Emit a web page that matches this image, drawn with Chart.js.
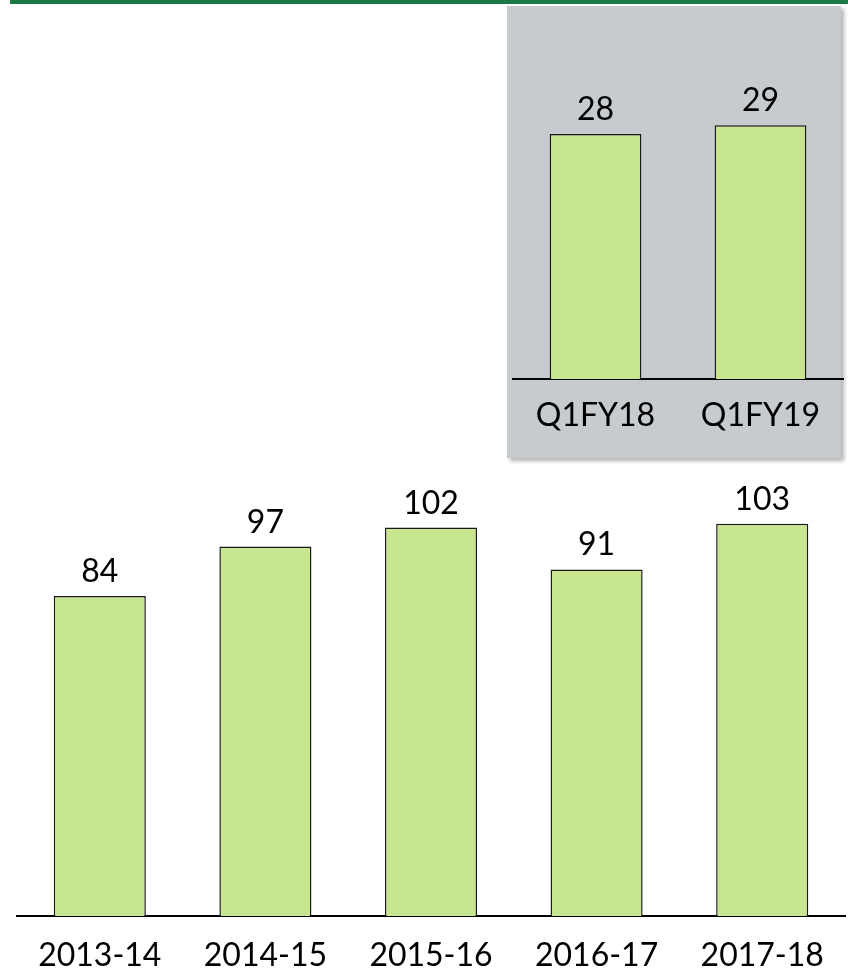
<!DOCTYPE html>
<html>
<head>
<meta charset="utf-8">
<script src="https://cdn.jsdelivr.net/npm/chart.js@4.4.0/dist/chart.umd.min.js"></script>
<style>
  html, body { margin: 0; padding: 0; background: #fff; }
  body { width: 848px; height: 970px; position: relative; overflow: hidden; }
  #topLine { position: absolute; left: 10px; top: 0; width: 838px; height: 4px; background: #1b7a43; }
  #mainWrap { position: absolute; left: 0; top: 0; width: 848px; height: 970px; }
  #insetBox { position: absolute; left: 507px; top: 6px; width: 334px; height: 452px;
              background: #c8cbce; box-shadow: 3px 3px 4px rgba(0,0,0,0.3); }
  #insetWrap { position: absolute; left: 0; top: 0; width: 337px; height: 452px; }
</style>
</head>
<body>
<div id="topLine"></div>
<div id="mainWrap"><canvas id="mainChart" width="848" height="970"></canvas></div>
<div id="insetBox"><div id="insetWrap"><canvas id="insetChart" width="337" height="452"></canvas></div></div>
<script>
// Datos
const years = ['2013-14', '2014-15', '2015-16', '2016-17', '2017-18'];
const yearValues = [84, 97, 102, 91, 103];
const quarters = ['Q1FY18', 'Q1FY19'];
const quarterValues = [28, 29];

const FONT = 'Lato, "Open Sans", sans-serif';
const barFill = '#c8e690';
const barLine = '#1a1a1a';

// Plugin para escribir el valor encima de cada barra
const valueLabels = {
    id: 'valueLabels',
    afterDatasetsDraw(chart) {
        const ctx = chart.ctx;
        ctx.save();
        ctx.font = '32px ' + FONT;
        ctx.fillStyle = '#000';
        ctx.textAlign = 'center';
        ctx.textBaseline = 'alphabetic';
        chart.getDatasetMeta(0).data.forEach((bar, i) => {
            ctx.fillText(chart.data.datasets[0].data[i], bar.x, bar.y - 14);
        });
        ctx.restore();
    }
};

function makeChart(id, labels, values, yMax, padding, axisHeight, tickPad) {
    const ctx = document.getElementById(id).getContext('2d');
    return new Chart(ctx, {
        type: 'bar',
        data: {
            labels: labels,
            datasets: [{
                data: values,
                backgroundColor: barFill,
                borderColor: barLine,
                borderWidth: 1.5,
                categoryPercentage: 1,
                barPercentage: 0.556
            }]
        },
        options: {
            responsive: false,
            animation: false,
            devicePixelRatio: 1,
            layout: { padding: padding },
            plugins: { legend: { display: false }, tooltip: { enabled: false } },
            scales: {
                x: {
                    grid: { display: false, drawTicks: false },
                    border: { display: true, color: '#000', width: 2 },
                    ticks: { color: '#000', font: { family: FONT, size: 32 }, padding: tickPad, maxRotation: 0 },
                    afterFit(s) { s.height = axisHeight; }
                },
                y: { display: false, min: 0, max: yMax }
            }
        },
        plugins: [valueLabels]
    });
}

makeChart('mainChart', years, yearValues, 120, { left: 17, right: 3, top: 459, bottom: 0 }, 54, 20);
makeChart('insetChart', quarters, quarterValues, 40, { left: 6, right: 1, top: 23, bottom: 0 }, 79, 17);
</script>
</body>
</html>
